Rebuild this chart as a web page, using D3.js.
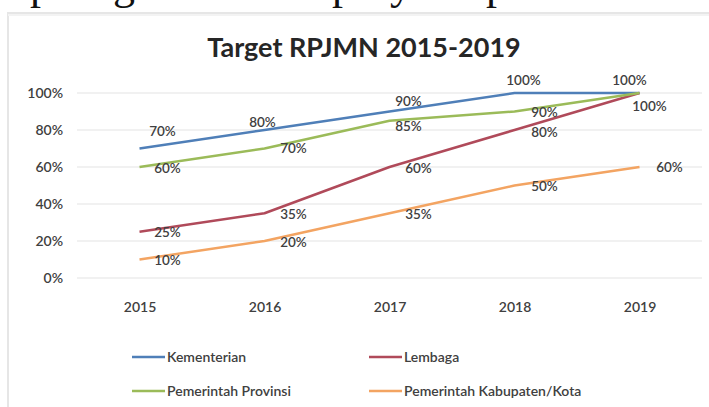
<!DOCTYPE html>
<html>
<head>
<meta charset="utf-8">
<script src="https://cdn.jsdelivr.net/npm/d3@7.9.0/dist/d3.min.js"></script>
<style>
  html, body { margin: 0; padding: 0; background: #fff; }
  svg { display: block; font-family: Lato, "Open Sans", sans-serif; }
</style>
</head>
<body>
<svg id="chart" width="709" height="407"></svg>
<script>
// data
const years = ['2015', '2016', '2017', '2018', '2019'];
const seriesNames = ['Kementerian', 'Lembaga', 'Pemerintah Provinsi', 'Pemerintah Kabupaten/Kota'];
const kementerian = [70, 80, 90, 100, 100];
const lembaga = [25, 35, 60, 80, 100];
const provinsi = [60, 70, 85, 90, 100];
const kabKota = [10, 20, 35, 50, 60];
const yTicks = [0, 20, 40, 60, 80, 100];

const colors = ['#4f7fb8', '#b04a5a', '#9bbb59', '#f3a462'];

// label placement (Excel style: first series above, others to the right)
const labelNudge = [
  [[23, -17], [-2, -8], [19, -10], [9, -13], [-10, -13]],
  [[28, 1], [29, 1], [29, 1], [30, 2], null],
  [[28, 1], [29, 0], [19, 6], [30, 1], [10, 13]],
  [[28, 1], [29, 1], [29, 1], [30, 1], [30, 0]]
];

const series = [kementerian, lembaga, provinsi, kabKota].map((values, i) => ({
  name: seriesNames[i], values, color: colors[i]
}));

const svg = d3.select('#chart');

// cut-off line of document text above the chart (only descenders show)
const topGlyphs = [['p', 30], ['g', 113], ['p', 332], ['y', 390], ['p', 486]];
svg.selectAll('text.doc').data(topGlyphs).join('text')
  .attr('class', 'doc')
  .attr('x', d => d[1]).attr('y', -1)
  .attr('font-family', '"Liberation Serif", serif')
  .attr('font-size', 44)
  .attr('fill', '#111')
  .text(d => d[0]);

// chart frame with soft edge
svg.append('rect').attr('x', 8).attr('y', 13).attr('width', 720).attr('height', 400)
  .attr('fill', '#fff').attr('stroke', '#e6e6e6').attr('stroke-width', 2);
svg.append('line').attr('x1', 8).attr('x2', 709).attr('y1', 15).attr('y2', 15)
  .attr('stroke', '#f3f3f3').attr('stroke-width', 2);

svg.append('text')
  .attr('x', 364).attr('y', 57)
  .attr('text-anchor', 'middle')
  .attr('font-size', 27).attr('font-weight', 700)
  .attr('fill', '#262626')
  .text('Target RPJMN 2015-2019');

const x = d3.scalePoint().domain(years).range([77, 702]).padding(0.5);
const y = d3.scaleLinear().domain([0, 100]).range([278, 93]);

// gridlines
svg.append('g').selectAll('line').data(yTicks).join('line')
  .attr('x1', 77).attr('x2', 702)
  .attr('y1', d => y(d)).attr('y2', d => y(d))
  .attr('stroke', '#e4e4e4').attr('stroke-width', 1.2);

// y axis
const yAxis = svg.append('g').attr('transform', 'translate(63,0)')
  .call(d3.axisLeft(y).tickValues(yTicks).tickFormat(d => d + '%').tickSize(0).tickPadding(0));
yAxis.select('.domain').remove();
yAxis.selectAll('text')
  .attr('font-family', 'Lato, sans-serif').attr('font-size', 14).attr('font-weight', 600)
  .attr('fill', '#404040');

// x axis
const xAxis = svg.append('g').attr('transform', 'translate(0,298)')
  .call(d3.axisBottom(x).tickSize(0).tickPadding(0));
xAxis.select('.domain').remove();
xAxis.selectAll('text')
  .attr('dy', '1em')
  .attr('font-family', 'Lato, sans-serif').attr('font-size', 14).attr('font-weight', 600)
  .attr('fill', '#404040');

// lines
const line = d3.line().x((d, i) => x(years[i])).y(d => y(d));
svg.append('g').selectAll('path').data(series).join('path')
  .attr('d', d => line(d.values))
  .attr('fill', 'none')
  .attr('stroke', d => d.color)
  .attr('stroke-width', 2.5)
  .attr('stroke-linejoin', 'round');

// data labels
series.forEach((s, si) => {
  svg.append('g').selectAll('text')
    .data(s.values.map((v, i) => ({ v, i, n: labelNudge[si][i] })).filter(d => d.n))
    .join('text')
    .attr('x', d => x(years[d.i]) + d.n[0])
    .attr('y', d => y(d.v) + d.n[1])
    .attr('dy', '0.35em')
    .attr('text-anchor', 'middle')
    .attr('font-size', 13.5).attr('font-weight', 600)
    .attr('fill', '#404040')
    .text(d => d.v + '%');
});

// legend
const legendPos = [[132, 357], [369, 357], [132, 391], [369, 391]];
const legend = svg.append('g').selectAll('g').data(series).join('g')
  .attr('transform', (d, i) => `translate(${legendPos[i][0]},${legendPos[i][1]})`);
legend.append('line')
  .attr('x1', 0).attr('x2', 33).attr('y1', 0).attr('y2', 0)
  .attr('stroke', d => d.color).attr('stroke-width', 2.5);
legend.append('text')
  .attr('x', 35).attr('dy', '0.35em')
  .attr('font-size', 14).attr('font-weight', 600)
  .attr('fill', '#404040')
  .text(d => d.name);
</script>
</body>
</html>
